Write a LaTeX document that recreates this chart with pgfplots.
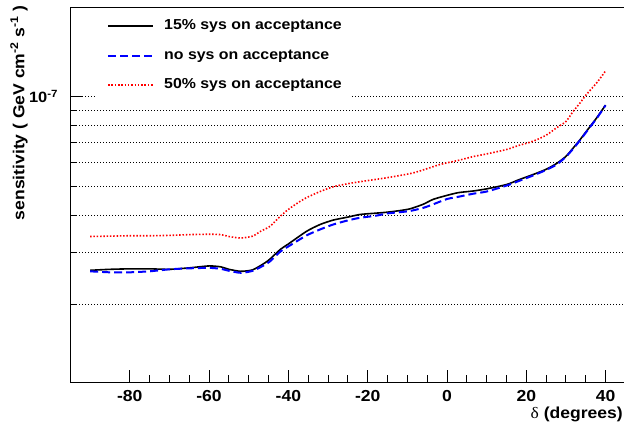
\documentclass[border=0pt]{standalone}
\usepackage{pgfplots}
\pgfplotsset{compat=1.18}
\usepackage{pgfplotstable}
\usepackage{fontspec}
\setmainfont{Liberation Sans}[FakeStretch=1.1]
\newfontfamily\greekfont{Liberation Serif}[FakeStretch=1.1]

\pgfplotstableread{
x y
-90 2.61e-8
-85 2.63e-8
-80 2.64e-8
-75 2.64e-8
-70 2.63e-8
-65 2.66e-8
-60 2.70e-8
-57 2.68e-8
-55 2.63e-8
-52 2.59e-8
-49 2.62e-8
-46 2.76e-8
-44.6 2.85e-8
-42 3.07e-8
-40 3.20e-8
-35.4 3.53e-8
-32 3.72e-8
-28.7 3.85e-8
-25 3.94e-8
-21.9 4.02e-8
-18 4.06e-8
-15.2 4.09e-8
-12 4.14e-8
-9.3 4.20e-8
-6 4.35e-8
-3.45 4.52e-8
0 4.66e-8
2.9 4.76e-8
6.6 4.82e-8
10 4.90e-8
15.1 5.07e-8
18 5.25e-8
21.8 5.48e-8
25 5.70e-8
27.7 5.97e-8
30 6.30e-8
31.9 6.74e-8
33.5 7.15e-8
35.2 7.66e-8
37.8 8.50e-8
40 9.37e-8
}\tabfifteen

\pgfplotstableread{
x y
-90 2.59e-8
-85 2.57e-8
-80 2.57e-8
-75 2.59e-8
-70 2.63e-8
-65 2.65e-8
-60 2.66e-8
-57 2.64e-8
-55 2.60e-8
-52 2.56e-8
-49 2.60e-8
-46 2.72e-8
-44.6 2.80e-8
-42 3.02e-8
-40 3.14e-8
-35.4 3.42e-8
-32 3.58e-8
-28.7 3.72e-8
-25 3.84e-8
-21.9 3.92e-8
-18 3.98e-8
-15.2 4.05e-8
-12 4.09e-8
-9.3 4.13e-8
-6 4.23e-8
-3.45 4.35e-8
0 4.53e-8
2.9 4.61e-8
6.6 4.72e-8
10 4.80e-8
15.1 5.03e-8
18 5.20e-8
21.8 5.44e-8
25 5.67e-8
27.7 5.92e-8
30 6.28e-8
31.9 6.70e-8
33.5 7.12e-8
35.2 7.63e-8
37.8 8.47e-8
40 9.35e-8
}\tabnosys

\pgfplotstableread{
x y
-90 3.39e-8
-85 3.40e-8
-80 3.41e-8
-75 3.41e-8
-70 3.42e-8
-65 3.44e-8
-60 3.45e-8
-57 3.44e-8
-55 3.39e-8
-52 3.35e-8
-49 3.40e-8
-47 3.53e-8
-44.6 3.67e-8
-42 3.97e-8
-40 4.18e-8
-37.6 4.40e-8
-35.4 4.58e-8
-32 4.80e-8
-28.7 4.98e-8
-25 5.10e-8
-21.9 5.18e-8
-15.2 5.34e-8
-8.4 5.55e-8
-1.7 5.92e-8
2.9 6.11e-8
6.6 6.29e-8
10 6.42e-8
15.1 6.65e-8
18 6.85e-8
21.8 7.09e-8
25 7.42e-8
27.7 7.87e-8
30 8.25e-8
31.9 8.95e-8
33.5 9.50e-8
35.2 1.018e-7
37.8 1.114e-7
40 1.22e-7
}\tabfifty

\begin{document}
\begin{tikzpicture}
\begin{axis}[
  at={(0,0)}, anchor=south west,
  scale only axis,
  width=555.1bp, height=375bp,
  xmin=-95, xmax=45,
  ymode=log, ymin=1.1e-8, ymax=2e-7,
  xtick={-80,-60,-40,-20,0,20,40},
  xticklabels={-80,-60,-40,-20,0,20,40},
  minor x tick num=3,
  ytick={1e-8,1e-7},
  yticklabels={{10\textsuperscript{-8}},{10\textsuperscript{-7}}},
  minor ytick={2e-8,3e-8,4e-8,5e-8,6e-8,7e-8,8e-8,9e-8,2e-7},
  ymajorgrids, yminorgrids,
  grid style={black, line width=0.6bp, dash pattern=on 1bp off 2bp},
  major grid style={black, line width=0.6bp, dash pattern=on 1bp off 2bp},
  minor grid style={black, line width=0.6bp, dash pattern=on 1bp off 2bp},
  tick pos=left,
  tick align=inside,
  major tick length=12bp,
  minor tick length=7bp,
  tick style={black, line width=0.9bp},
  axis line style={line width=1bp, black},
  xticklabel style={font=\fontsize{16}{18}\selectfont\bfseries, inner sep=0pt, anchor=north, yshift=-8bp},
  yticklabel style={font=\fontsize{15}{17}\selectfont\bfseries, inner sep=0pt, anchor=east, xshift=-12bp},
  xlabel={{\greekfont δ} \textbf{(degrees)}},
  xlabel style={font=\fontsize{16}{18}\selectfont, at={(axis description cs:0.9957,-0.096)}, anchor=base east, inner sep=0pt},
  ylabel={\textbf{sensitivity ( GeV cm\textsuperscript{-2} s\textsuperscript{-1} )}},
  ylabel style={font=\fontsize{16}{18}\selectfont, at={(axis description cs:-0.0924,1.005)}, anchor=east, inner sep=0pt, rotate=0},
  legend style={
    at={(axis description cs:0.0481,0.989)}, anchor=north west,
    draw=none, fill=white,
    font=\fontsize{14.5}{17}\selectfont\bfseries,
    inner xsep=10bp, inner ysep=7bp,
    row sep=14bp, column sep=10bp,
    nodes={inner sep=0pt, text height=11.5bp, text depth=4bp},
    cells={anchor=west},
  },
  legend image code/.code={\draw[#1] (0bp,0bp) -- (45bp,0bp);},
]
\addplot[black, line width=1.6bp, smooth, tension=0.4] table[x=x,y=y] {\tabfifteen};
\addlegendentry{15\% sys on acceptance}
\addplot[blue, line width=2bp, dash pattern=on 8bp off 4bp, smooth, tension=0.4] table[x=x,y=y] {\tabnosys};
\addlegendentry{no sys on acceptance}
\addplot[red, line width=1.6bp, dash pattern=on 1.5bp off 1.8bp, smooth, tension=0.4] table[x=x,y=y] {\tabfifty};
\addlegendentry{50\% sys on acceptance}
\end{axis}
\pgfresetboundingbox
\path[use as bounding box] (-70.3bp,-42bp) rectangle (553.7bp,382bp);
\end{tikzpicture}
\end{document}
